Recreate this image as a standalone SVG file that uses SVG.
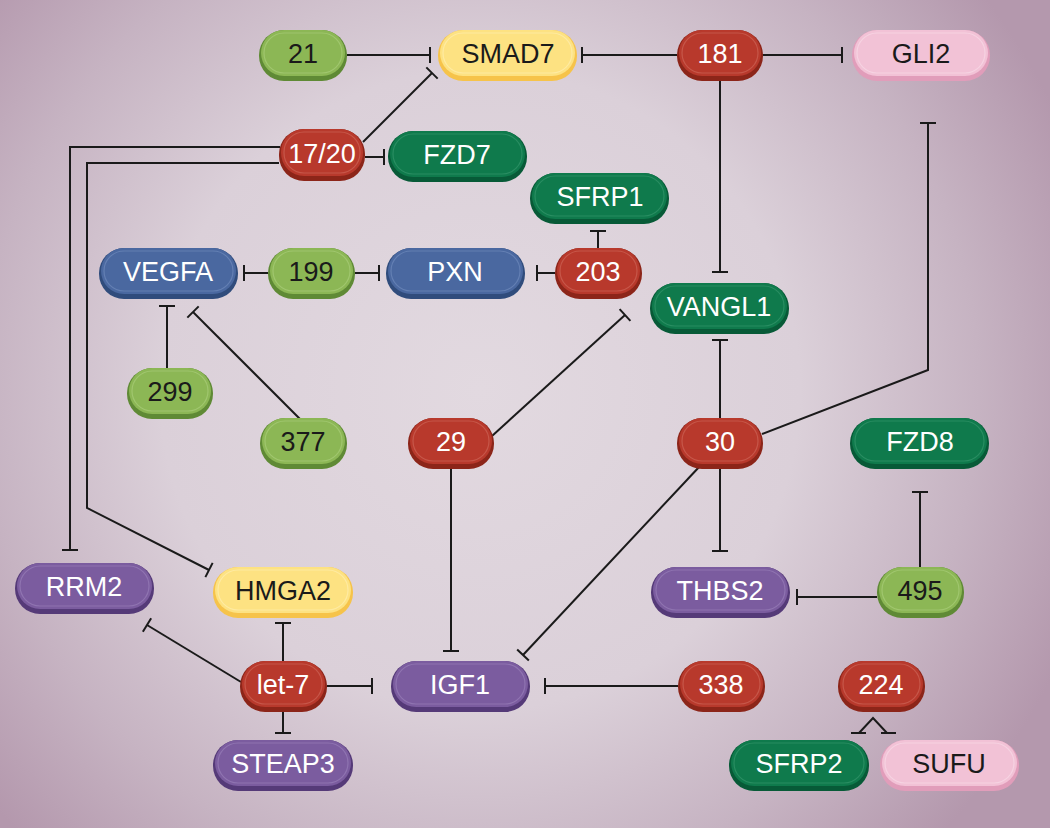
<svg xmlns="http://www.w3.org/2000/svg" width="1050" height="828" viewBox="0 0 1050 828">
<defs>
<radialGradient id="bg" cx="480" cy="390" r="640" gradientUnits="userSpaceOnUse">
<stop offset="0" stop-color="#e2d9e0"/>
<stop offset="0.5" stop-color="#dbd0d9"/>
<stop offset="0.78" stop-color="#c6b3c2"/>
<stop offset="1" stop-color="#b498ad"/>
</radialGradient>
<marker id="tb" markerUnits="userSpaceOnUse" viewBox="-3 -10 6 20" markerWidth="6" markerHeight="20" refX="0" refY="0" orient="auto">
<path d="M0,-8V8" stroke="#1a1a1a" stroke-width="2"/>
</marker>
</defs>
<style>
.c{fill:none;stroke:#1a1a1a;stroke-width:2;marker-end:url(#tb)}
.f{fill:none;stroke:#1a1a1a;stroke-width:2}
.t{font-family:"Liberation Sans",Arial,sans-serif;font-size:27px;text-anchor:middle;dominant-baseline:central}
.w{fill:#ffffff}
.k{fill:#1a1a1a}
.hl{fill:none;stroke-width:1.2;opacity:0.6}
.red .o{fill:#8c2519}.red .i{fill:#b8392c}.red .hl{stroke:#d06a5e}
.lg .o{fill:#5f8a35}.lg .i{fill:#8cb755}.lg .hl{stroke:#aed07e}
.dg .o{fill:#075a37}.dg .i{fill:#0f7a4c}.dg .hl{stroke:#3b9a70}
.bl .o{fill:#304c7c}.bl .i{fill:#4a68a0}.bl .hl{stroke:#7590c0}
.ye .o{fill:#f6c34a}.ye .i{fill:#fde282}.ye .hl{stroke:#fff0b8}
.pk .o{fill:#e19dba}.pk .i{fill:#f2c2d6}.pk .hl{stroke:#f9dde9}
.pu .o{fill:#553a78}.pu .i{fill:#7b5c9f}.pu .hl{stroke:#9d83bd}
</style>
<rect width="1050" height="828" fill="url(#bg)"/>

<g id="connectors">
<path class="c" d="M347,55H430"/>
<path class="c" d="M677,55H582"/>
<path class="c" d="M762,55H842"/>
<path class="c" d="M720,80V272"/>
<path class="c" d="M363,142L432,73"/>
<path class="c" d="M365,157H384"/>
<path class="c" d="M280,147H70V550"/>
<path class="c" d="M279,163H87V508L209,570"/>
<path class="c" d="M268,273H244"/>
<path class="c" d="M355,273H379"/>
<path class="c" d="M555,273H537"/>
<path class="c" d="M598,248V231"/>
<path class="c" d="M167,368V306"/>
<path class="c" d="M300,419L193,312"/>
<path class="c" d="M492,436L625,315"/>
<path class="c" d="M451,468V651"/>
<path class="c" d="M720,418V340"/>
<path class="c" d="M762,434L928,370V123"/>
<path class="c" d="M700,466L523,655"/>
<path class="c" d="M720,468V551"/>
<path class="c" d="M877,597H797"/>
<path class="c" d="M920,567V492"/>
<path class="c" d="M283,661V623"/>
<path class="c" d="M283,711V733"/>
<path class="c" d="M327,686H372"/>
<path class="c" d="M241,682L147,625"/>
<path class="c" d="M678,686H545"/>
<path class="f" d="M859,733L873,718L887,733M851,733H866M881,733H896"/>
</g>

<g id="n21" class="lg"><rect class="o" x="259" y="30" width="88" height="51" rx="25"/><rect class="i" x="261" y="30" width="84" height="46" rx="23"/><rect class="hl" x="264" y="33" width="78" height="40" rx="20"/><text class="t k" x="303" y="54">21</text></g>
<g id="nSMAD7" class="ye"><rect class="o" x="438" y="30" width="139" height="51" rx="25"/><rect class="i" x="440" y="30" width="135" height="46" rx="23"/><rect class="hl" x="443" y="33" width="129" height="40" rx="20"/><text class="t k" x="508" y="54">SMAD7</text></g>
<g id="n181" class="red"><rect class="o" x="677" y="30" width="86" height="51" rx="25"/><rect class="i" x="679" y="30" width="82" height="46" rx="23"/><rect class="hl" x="682" y="33" width="76" height="40" rx="20"/><text class="t w" x="720" y="54">181</text></g>
<g id="nGLI2" class="pk"><rect class="o" x="852" y="30" width="138" height="51" rx="25"/><rect class="i" x="854" y="30" width="134" height="46" rx="23"/><rect class="hl" x="857" y="33" width="128" height="40" rx="20"/><text class="t k" x="921" y="54">GLI2</text></g>
<g id="n17-20" class="red"><rect class="o" x="279" y="129" width="86" height="52" rx="25"/><rect class="i" x="281" y="129" width="82" height="47" rx="23"/><rect class="hl" x="284" y="132" width="76" height="41" rx="20"/><text class="t w" x="322" y="154">17/20</text></g>
<g id="nFZD7" class="dg"><rect class="o" x="388" y="131" width="139" height="51" rx="25"/><rect class="i" x="390" y="131" width="135" height="46" rx="23"/><rect class="hl" x="393" y="134" width="129" height="40" rx="20"/><text class="t w" x="457" y="155">FZD7</text></g>
<g id="nSFRP1" class="dg"><rect class="o" x="530" y="173" width="139" height="51" rx="25"/><rect class="i" x="532" y="173" width="135" height="46" rx="23"/><rect class="hl" x="535" y="176" width="129" height="40" rx="20"/><text class="t w" x="600" y="197">SFRP1</text></g>
<g id="nVEGFA" class="bl"><rect class="o" x="99" y="248" width="139" height="51" rx="25"/><rect class="i" x="101" y="248" width="135" height="46" rx="23"/><rect class="hl" x="104" y="251" width="129" height="40" rx="20"/><text class="t w" x="168" y="272">VEGFA</text></g>
<g id="n199" class="lg"><rect class="o" x="268" y="248" width="87" height="51" rx="25"/><rect class="i" x="270" y="248" width="83" height="46" rx="23"/><rect class="hl" x="273" y="251" width="77" height="40" rx="20"/><text class="t k" x="311" y="272">199</text></g>
<g id="nPXN" class="bl"><rect class="o" x="386" y="248" width="139" height="51" rx="25"/><rect class="i" x="388" y="248" width="135" height="46" rx="23"/><rect class="hl" x="391" y="251" width="129" height="40" rx="20"/><text class="t w" x="455" y="272">PXN</text></g>
<g id="n203" class="red"><rect class="o" x="555" y="248" width="87" height="51" rx="25"/><rect class="i" x="557" y="248" width="83" height="46" rx="23"/><rect class="hl" x="560" y="251" width="77" height="40" rx="20"/><text class="t w" x="598" y="272">203</text></g>
<g id="nVANGL1" class="dg"><rect class="o" x="650" y="283" width="139" height="51" rx="25"/><rect class="i" x="652" y="283" width="135" height="46" rx="23"/><rect class="hl" x="655" y="286" width="129" height="40" rx="20"/><text class="t w" x="719" y="307">VANGL1</text></g>
<g id="n299" class="lg"><rect class="o" x="127" y="368" width="86" height="51" rx="25"/><rect class="i" x="129" y="368" width="82" height="46" rx="23"/><rect class="hl" x="132" y="371" width="76" height="40" rx="20"/><text class="t k" x="170" y="392">299</text></g>
<g id="n377" class="lg"><rect class="o" x="260" y="418" width="87" height="51" rx="25"/><rect class="i" x="262" y="418" width="83" height="46" rx="23"/><rect class="hl" x="265" y="421" width="77" height="40" rx="20"/><text class="t k" x="303" y="442">377</text></g>
<g id="n29" class="red"><rect class="o" x="408" y="418" width="86" height="51" rx="25"/><rect class="i" x="410" y="418" width="82" height="46" rx="23"/><rect class="hl" x="413" y="421" width="76" height="40" rx="20"/><text class="t w" x="451" y="442">29</text></g>
<g id="n30" class="red"><rect class="o" x="677" y="418" width="86" height="51" rx="25"/><rect class="i" x="679" y="418" width="82" height="46" rx="23"/><rect class="hl" x="682" y="421" width="76" height="40" rx="20"/><text class="t w" x="720" y="442">30</text></g>
<g id="nFZD8" class="dg"><rect class="o" x="850" y="418" width="139" height="51" rx="25"/><rect class="i" x="852" y="418" width="135" height="46" rx="23"/><rect class="hl" x="855" y="421" width="129" height="40" rx="20"/><text class="t w" x="920" y="442">FZD8</text></g>
<g id="nRRM2" class="pu"><rect class="o" x="15" y="563" width="139" height="51" rx="25"/><rect class="i" x="17" y="563" width="135" height="46" rx="23"/><rect class="hl" x="20" y="566" width="129" height="40" rx="20"/><text class="t w" x="84" y="587">RRM2</text></g>
<g id="nHMGA2" class="ye"><rect class="o" x="213" y="567" width="140" height="51" rx="25"/><rect class="i" x="215" y="567" width="136" height="46" rx="23"/><rect class="hl" x="218" y="570" width="130" height="40" rx="20"/><text class="t k" x="283" y="591">HMGA2</text></g>
<g id="nTHBS2" class="pu"><rect class="o" x="651" y="567" width="139" height="51" rx="25"/><rect class="i" x="653" y="567" width="135" height="46" rx="23"/><rect class="hl" x="656" y="570" width="129" height="40" rx="20"/><text class="t w" x="720" y="591">THBS2</text></g>
<g id="n495" class="lg"><rect class="o" x="877" y="567" width="87" height="51" rx="25"/><rect class="i" x="879" y="567" width="83" height="46" rx="23"/><rect class="hl" x="882" y="570" width="77" height="40" rx="20"/><text class="t k" x="920" y="591">495</text></g>
<g id="nlet-7" class="red"><rect class="o" x="240" y="661" width="87" height="51" rx="25"/><rect class="i" x="242" y="661" width="83" height="46" rx="23"/><rect class="hl" x="245" y="664" width="77" height="40" rx="20"/><text class="t w" x="283" y="685">let-7</text></g>
<g id="nIGF1" class="pu"><rect class="o" x="391" y="661" width="139" height="51" rx="25"/><rect class="i" x="393" y="661" width="135" height="46" rx="23"/><rect class="hl" x="396" y="664" width="129" height="40" rx="20"/><text class="t w" x="460" y="685">IGF1</text></g>
<g id="n338" class="red"><rect class="o" x="678" y="661" width="87" height="51" rx="25"/><rect class="i" x="680" y="661" width="83" height="46" rx="23"/><rect class="hl" x="683" y="664" width="77" height="40" rx="20"/><text class="t w" x="721" y="685">338</text></g>
<g id="n224" class="red"><rect class="o" x="838" y="661" width="87" height="51" rx="25"/><rect class="i" x="840" y="661" width="83" height="46" rx="23"/><rect class="hl" x="843" y="664" width="77" height="40" rx="20"/><text class="t w" x="881" y="685">224</text></g>
<g id="nSTEAP3" class="pu"><rect class="o" x="213" y="740" width="140" height="51" rx="25"/><rect class="i" x="215" y="740" width="136" height="46" rx="23"/><rect class="hl" x="218" y="743" width="130" height="40" rx="20"/><text class="t w" x="283" y="764">STEAP3</text></g>
<g id="nSFRP2" class="dg"><rect class="o" x="729" y="740" width="140" height="51" rx="25"/><rect class="i" x="731" y="740" width="136" height="46" rx="23"/><rect class="hl" x="734" y="743" width="130" height="40" rx="20"/><text class="t w" x="799" y="764">SFRP2</text></g>
<g id="nSUFU" class="pk"><rect class="o" x="880" y="740" width="139" height="51" rx="25"/><rect class="i" x="882" y="740" width="135" height="46" rx="23"/><rect class="hl" x="885" y="743" width="129" height="40" rx="20"/><text class="t k" x="949" y="764">SUFU</text></g>
</svg>
